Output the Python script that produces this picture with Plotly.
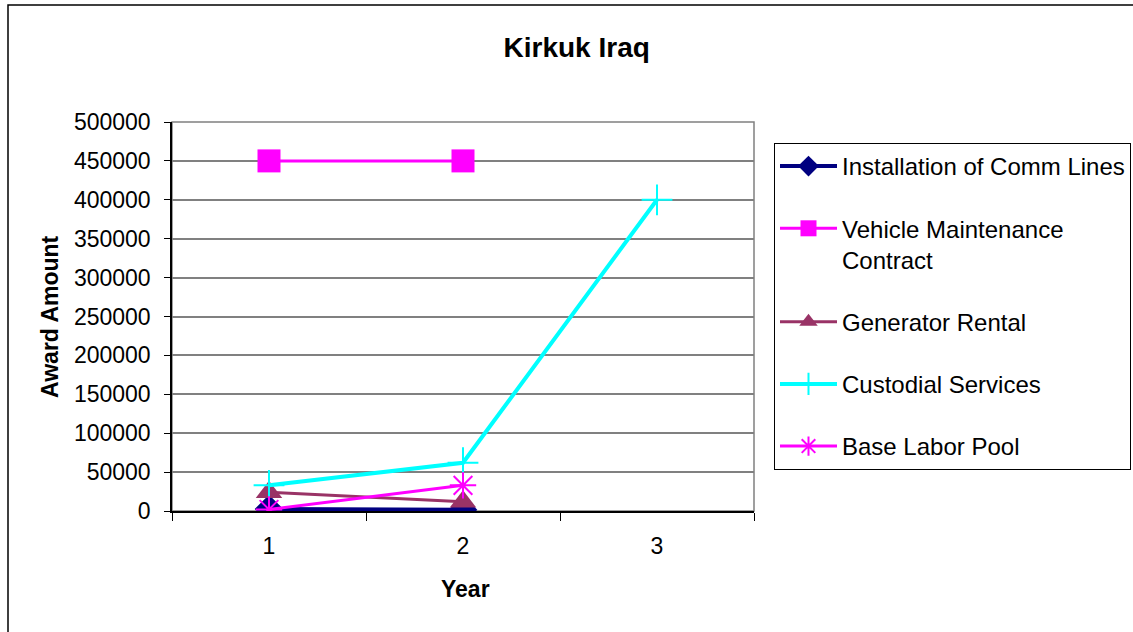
import plotly.graph_objects as go

# ---- data ----
years = ["1", "2", "3"]
comm_lines = [2500, 1500]
vehicle_maint = [450000, 450000]
generator_rental = [24000, 12000]
custodial = [33000, 62000, 400000]
base_labor = [2000, 33000]
y_ticks = list(range(0, 500001, 50000))

W, H = 1133, 632


def px(x):
    return x / W


def py(y):
    return 1 - y / H


FONT = "Liberation Sans, Arial, sans-serif"

fig = go.Figure()
fig.add_trace(go.Scatter(
    x=years[:len(comm_lines)], y=comm_lines, name="Installation of Comm Lines",
    mode="lines+markers", legendgroup="g1",
    line=dict(color="#000080", width=4),
    marker=dict(symbol="diamond", size=22, color="#000080")))
fig.add_trace(go.Scatter(
    x=years[:len(vehicle_maint)], y=vehicle_maint, name="Vehicle Maintenance<br>Contract",
    mode="lines+markers", legendgroup="g2",
    line=dict(color="#FF00FF", width=3),
    marker=dict(symbol="square", size=23, color="#FF00FF")))
fig.add_trace(go.Scatter(
    x=years[:len(generator_rental)], y=generator_rental, name="Generator Rental",
    mode="lines+markers", legendgroup="g3",
    line=dict(color="#993366", width=3),
    marker=dict(symbol="triangle-up", size=23, color="#993366")))
fig.add_trace(go.Scatter(
    x=years[:len(custodial)], y=custodial, name="Custodial Services",
    mode="lines+markers", legendgroup="g4",
    line=dict(color="#00FFFF", width=4),
    marker=dict(symbol="cross-thin", size=22, color="#00FFFF",
                line=dict(color="#00FFFF", width=2))))
fig.add_trace(go.Scatter(
    x=years[:len(base_labor)], y=base_labor, name="Base Labor Pool",
    mode="lines+markers", legendgroup="g5",
    line=dict(color="#FF00FF", width=3),
    marker=dict(symbol="asterisk", size=22, color="#FF00FF",
                line=dict(color="#FF00FF", width=2))))

fig.update_layout(
    width=W, height=H, autosize=False,
    margin=dict(l=0, r=0, t=0, b=0, pad=0),
    paper_bgcolor="white", plot_bgcolor="white",
    font=dict(family=FONT, size=23, color="black"),
    title=dict(text="<b>Kirkuk Iraq</b>", x=0.509, y=py(47), xref="paper", yref="paper",
               xanchor="center", yanchor="middle", font=dict(size=28, family=FONT),
               automargin=False),
    showlegend=True,
    legend=dict(x=px(774), y=py(143), xanchor="left", yanchor="top",
                bordercolor="black", borderwidth=1, bgcolor="white",
                font=dict(size=24, family=FONT), traceorder="grouped",
                tracegroupgap=28, valign="top", itemwidth=57),
    xaxis=dict(type="category", domain=[px(172), px(754)], range=[-0.5, 2.5],
               tickson="boundaries", ticks="outside", ticklen=8, tickcolor="black",
               showline=True, linecolor="black", linewidth=1.5, automargin=False,
               showgrid=False, zeroline=False, ticklabelstandoff=14,
               tickfont=dict(size=23)),
    yaxis=dict(domain=[py(511), py(122)], range=[0, 500000], tickmode="array",
               tickvals=y_ticks, ticktext=[str(v) for v in y_ticks],
               ticks="outside", ticklen=6, tickcolor="black", automargin=False,
               showline=True, linecolor="black", linewidth=1.5,
               showgrid=True, gridcolor="#808080", gridwidth=1.5,
               zeroline=False, ticklabelstandoff=9, tickfont=dict(size=23)),
    shapes=[
        dict(type="rect", xref="x domain", yref="y domain", x0=0, x1=1, y0=0, y1=1,
             line=dict(color="#808080", width=1.5), layer="below"),
        dict(type="rect", xref="paper", yref="paper", x0=px(8), x1=1.02, y0=-0.02, y1=py(5),
             line=dict(color="black", width=1.5), layer="below"),
    ],
    annotations=[
        dict(text="<b>Award Amount</b>", x=px(50), y=py(317), xref="paper", yref="paper",
             textangle=-90, showarrow=False, font=dict(size=23, family=FONT),
             xanchor="center", yanchor="middle"),
        dict(text="<b>Year</b>", x=px(465), y=py(589), xref="paper", yref="paper",
             showarrow=False, font=dict(size=23, family=FONT),
             xanchor="center", yanchor="middle"),
    ],
)

fig.write_html("out.html", config={"displayModeBar": False},
               post_script="document.body.style.margin='0';document.body.style.overflow='hidden';")
